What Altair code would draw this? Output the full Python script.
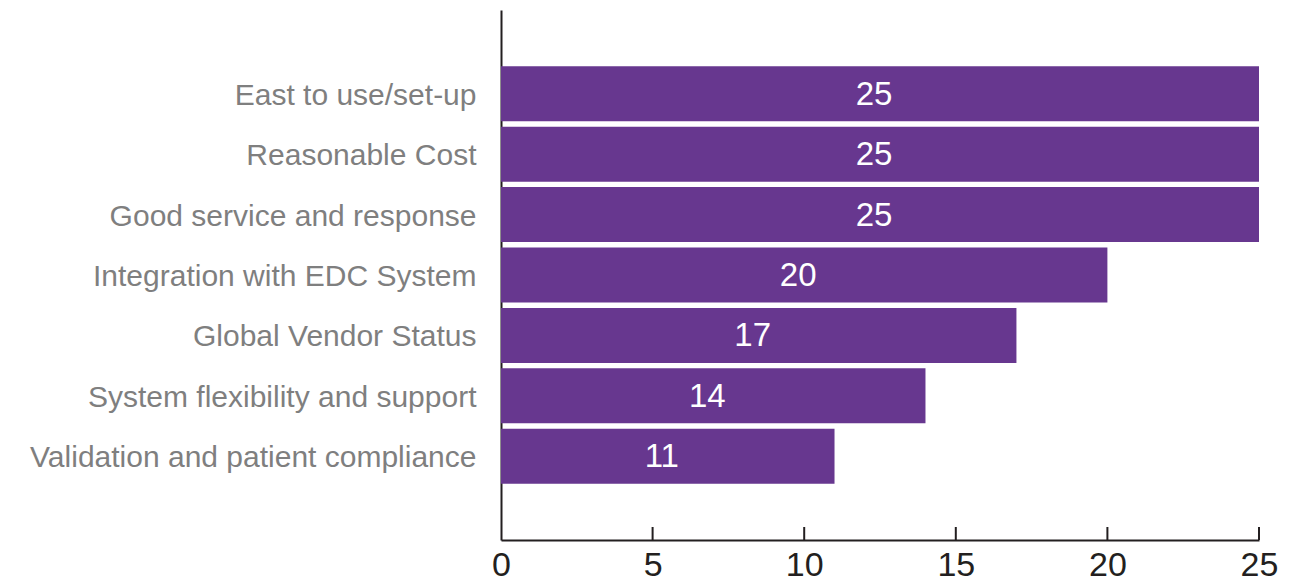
import altair as alt
import pandas as pd

categories = [
    "East to use/set-up",
    "Reasonable Cost",
    "Good service and response",
    "Integration with EDC System",
    "Global Vendor Status",
    "System flexibility and support",
    "Validation and patient compliance",
]
values = [25, 25, 25, 20, 17, 14, 11]
tick_values = [0, 5, 10, 15, 20, 25]

df = pd.DataFrame({"cat": categories, "val": values})
ticks_df = pd.DataFrame({"t": tick_values[1:]})

W, H = 758, 530
FONT = "Liberation Sans"
PURPLE = "#67378f"
AXIS = "#231f20"

xscale = alt.Scale(domain=[0, 25], nice=False, zero=True)
yscale = alt.Scale(domain=categories, paddingInner=0.09, paddingOuter=0.93)

bars = alt.Chart(df).mark_bar(color=PURPLE).encode(
    x=alt.X("val:Q", scale=xscale,
            axis=alt.Axis(values=tick_values, title=None, grid=False, ticks=False,
                          domainColor=AXIS, domainWidth=2, labelColor=AXIS,
                          labelFont=FONT, labelFontSize=34, labelPadding=8,
                          labelFlush=False)),
    y=alt.Y("cat:N", scale=yscale, sort=categories,
            axis=alt.Axis(title=None, ticks=False, domainColor=AXIS, domainWidth=2,
                          labelColor="#7f7f7f", labelFont=FONT, labelFontSize=30,
                          labelPadding=25, labelLimit=600, labelOffset=2)),
)

labels = alt.Chart(df).transform_calculate(mid="datum.val / 2").mark_text(
    color="white", font=FONT, fontSize=33, baseline="middle", align="center", dx=-6, dy=1
).encode(
    x=alt.X("mid:Q", scale=xscale),
    y=alt.Y("cat:N", scale=yscale, sort=categories),
    text="val:Q",
)

tick_marks = alt.Chart(ticks_df).mark_rule(color=AXIS, strokeWidth=2).encode(
    x=alt.X("t:Q", scale=xscale),
    y=alt.value(H - 13),
    y2=alt.value(H),
)

chart = alt.layer(bars, labels, tick_marks).properties(
    width=W, height=H,
    autosize=alt.AutoSizeParams(type="none"),
    padding={"left": 501, "top": 10, "right": 57, "bottom": 41},
).configure(background="white").configure_view(stroke=None)

chart.save("out.html", embed_options={"renderer": "svg", "actions": False})
